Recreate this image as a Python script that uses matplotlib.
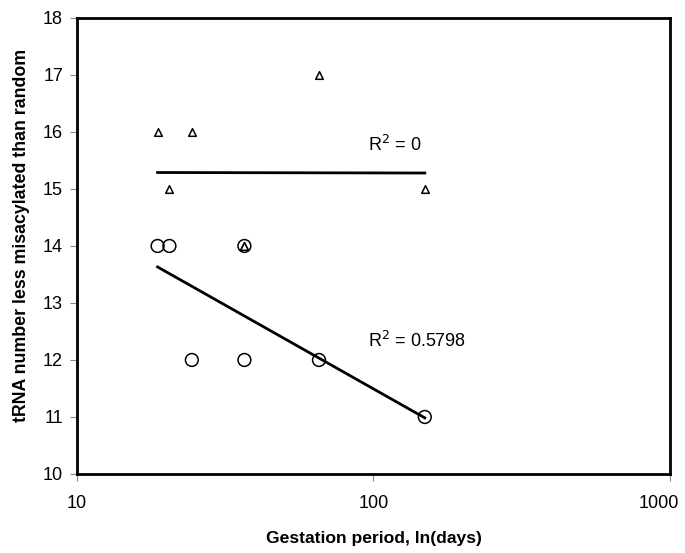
import numpy as np
import matplotlib
matplotlib.use("Agg")
import matplotlib.pyplot as plt
import matplotlib.transforms as mtrans

plt.rcParams['font.family'] = ['Liberation Sans', 'DejaVu Sans']

# gestation period (days) and tRNA counts
gestation = [18.7, 20.5, 24.4, 36.7, 36.7, 65.5, 149]
trna_tri = [16, 15, 16, 14, 14, 17, 15]
trna_circ = [14, 14, 12, 14, 12, 12, 11]

fig = plt.figure(figsize=(6.85, 5.53), dpi=100)
ax = fig.add_axes([0.1124, 0.1429, 0.8656, 0.8246])

x = np.array(gestation)
lx = np.log(x)

# logarithmic trendlines (y = a ln x + b)
for yv in (trna_tri, trna_circ):
    a, b = np.polyfit(lx, yv, 1)
    xs = np.linspace(x.min(), x.max(), 50)
    ax.plot(xs, a * np.log(xs) + b, color='black', lw=2, zorder=2)

ax.scatter(gestation, trna_tri, marker='^', s=30, facecolors='white',
           edgecolors='black', linewidths=1.1, zorder=4)
ax.scatter(gestation, trna_circ, marker='o', s=85, facecolors='none',
           edgecolors='black', linewidths=1.1, zorder=3)

ax.text(96, 15.77, 'R$^2$ = 0', fontsize=13, va='center')
ax.text(96, 12.33, 'R$^2$ = 0.5798', fontsize=13, va='center')

ax.set_xscale('log')
ax.set_xlim(10, 1000)
ax.set_ylim(10, 18)
ax.set_xticks([10, 100, 1000])
ax.set_xticklabels(['10', '100', '1000'])
ax.xaxis.set_minor_locator(matplotlib.ticker.NullLocator())
ax.set_yticks(range(10, 19))
ax.tick_params(labelsize=13, length=5, width=0.8, color='#888888')
ax.tick_params(axis='y', pad=5)
ax.tick_params(axis='x', pad=10)
for s in ax.spines.values():
    s.set_linewidth(2)

# keep the last x label inside the figure
lab = ax.get_xticklabels()[-1]
lab.set_transform(lab.get_transform() +
                  mtrans.ScaledTranslation(-11 / 100, 0, fig.dpi_scale_trans))

ax.set_xlabel('Gestation period, ln(days)', fontsize=12.6, fontweight='bold', labelpad=14)
ax.set_ylabel('tRNA number less misacylated than random', fontsize=12.8,
              fontweight='bold')
ax.yaxis.set_label_coords(-0.08, 0.523)

fig.savefig('out.png', dpi=100)
